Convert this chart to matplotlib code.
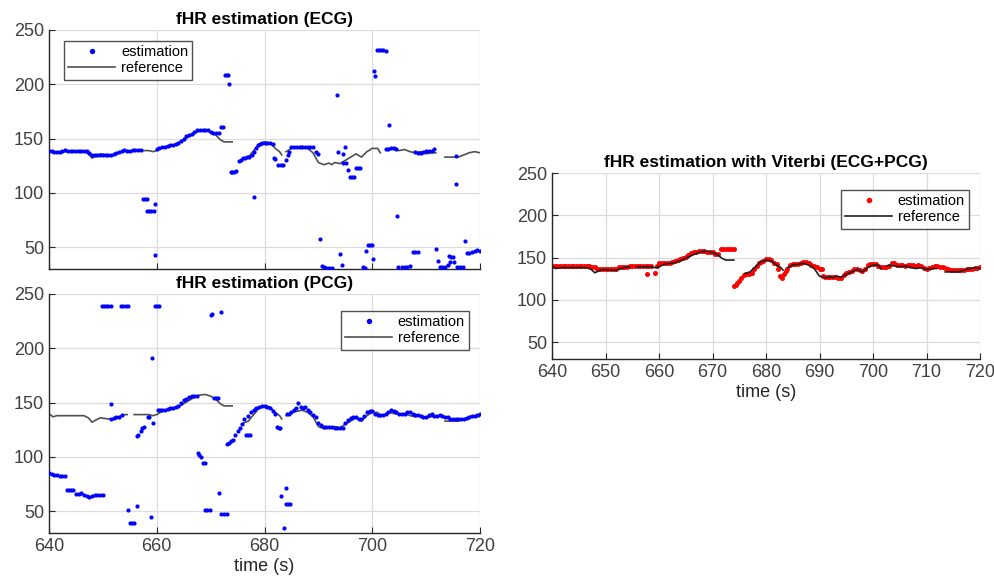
import numpy as np
import matplotlib
matplotlib.use("Agg")
import matplotlib.pyplot as plt

plt.rcParams['font.family'] = ['Liberation Sans', 'DejaVu Sans']

nan = np.nan
# ---------------- reference fHR (shared by all panels) ----------------
ref_t = [640, 640.7, 641.5, 646.5, 647.3, 648, 648.7, 649.5, 651, 652, 653, 654, 654.5, 655,
         655.8, 657, 658.5, 659.3, 660, 661, 662, 663, 664, 665, 666, 667, 668, 669, 670, 671,
         671.8, 672.5, 674, 675, 676, 677, 678, 679, 680, 681, 682, 682.8, 683.2, 683.6, 684,
         685, 686, 687, 688, 689, 690, 691, 692, 692.5, 693, 694, 695, 696, 697, 698, 699, 700,
         701, 701.5, 702, 702.6, 703, 704, 705, 706, 707, 708, 709, 710, 711, 711.8, 712.7,
         713.5, 714, 716, 717, 718, 719, 720]
ref_v = [140, 137, 138, 138, 136, 132, 134, 136, 135, 135, 137, 139, 139, nan,
         139, 139, 139, 138, 139, 142, 143, 144, 146, 149, 152, 155, 157, 157.5, 156, 153,
         149, 147, 147, nan, 131, 133, 139, 145, 147, 146, 141, 138, 135, nan, 138,
         141, 142, 143, 141, 137, 128, 126, 127.5, 126, 128, 127, 130, 133, 136, 133, 138, 141,
         141, 137, nan, 140, 141, 140, 139, 140, 138, 137, 138, 136, 137, 137, nan,
         133, 133, 133, 135, 137, 138, 137]

# ---------------- ECG estimation ----------------
ecg_t = [640, 640.5, 641, 641.5, 642, 642.5, 643, 643.5, 644, 644.5, 645, 645.5, 646, 646.5, 647,
         647.5, 648, 648.5, 649, 649.5, 650, 650.5, 651, 651.5, 652, 652.5, 653, 653.5, 654, 654.5,
         655, 655.5, 656, 656.5, 657,
         657.4, 657.8, 658.2, 658.2, 658.6, 659, 659.4, 659.6, 659.7,
         660, 660.5, 661, 661.5, 662, 662.5, 663, 663.5, 664, 664.5, 665, 665.5, 666, 666.5, 667,
         667.5, 668, 668.5, 669, 669.5, 670, 670.5, 671, 671.5,
         672, 672.3, 672.6, 673, 673.3, 673.5,
         673.7, 674, 674.4, 674.8,
         675.2, 675.6, 676, 676.4, 676.8, 677.2, 677.6, 678, 678.4, 678.8, 679.2, 679.6, 680, 680.5,
         681, 681.5, 678.1,
         681.7, 682, 682.5, 683, 683.5, 684, 684.3, 684.6, 685, 685.5, 686, 686.5, 687, 687.5, 688,
         688.5, 689, 689.5, 690,
         690.3, 690.6, 691, 691.5, 692, 692.5, 693.4, 693.7, 694, 694.3, 694.5, 694.6, 694.9, 695.2,
         695.5, 695.8, 696.2, 696.6, 697, 697.4, 697.8, 698.3, 698.6, 698.9, 699.2, 699.6, 700,
         700.1, 700.3, 700.6, 700.8, 701.2, 701.6, 702, 702.5, 703.2,
         702.6, 703, 703.5, 704, 704.4, 704.6,
         704.8, 705.5, 706, 706.5, 707, 707.6, 708, 708.4,
         708, 708.5, 709, 709.5, 710, 710.5, 711, 711.5,
         711.8, 712.2, 712.5, 713, 713.5, 714, 714.2, 714.6, 715, 714.5, 715.2, 715.5, 715.5,
         715.8, 716.3, 716.8, 717.3, 717.6, 718, 718.5, 719, 719.5, 720]
ecg_v = [139, 139, 138, 138, 138, 139, 139.5, 139, 139, 139, 139, 139, 139, 139, 139,
         137, 135, 135, 135, 135, 135, 135, 135, 135, 136, 137, 138, 139, 139.5, 139,
         139, 139.5, 139.5, 139.5, 139.5,
         94, 94, 94, 83, 83, 83, 83, 90, 43,
         140, 141, 142, 142, 143, 144, 144.5, 145, 146, 148, 150, 152, 153, 154, 156,
         157.5, 158, 158, 158, 158, 156, 155, 155, 155,
         160.5, 160.5, 209, 209, 209, 200,
         119, 119, 119, 120,
         129, 130, 132, 132, 133, 133, 135, 138, 141, 144, 145, 146, 146, 146,
         146, 145.5, 96,
         132, 131, 126, 126, 126, 130, 135, 138, 142.5, 142.5, 142.5, 142.5, 142.5, 142.5, 142.5,
         142.5, 142, 138, 136,
         58, 33, 32, 31, 31, 31, 190, 138, 44, 34, 128, 136, 142, 128,
         121, 115, 115, 115, 123, 123, 123, 32, 31, 47, 52, 52, 52,
         39, 212, 208, 232, 232, 232, 231.5, 231, 163,
         140, 140, 141, 141, 140, 79,
         32, 32, 32, 32, 32.5, 46, 46, 46,
         138, 137, 137, 138, 138.5, 139, 139, 140,
         48, 37, 32, 32, 32, 34, 42, 41, 41, 36, 36, 134, 108,
         32, 32, 32, 55.5, 45, 45, 46, 47, 47.5, 47]

# ---------------- PCG estimation ----------------
pcg_t = [640, 640.5, 641, 641.5, 642, 642.5, 643, 643.3, 643.7, 644, 644.5, 645, 645.5, 646,
         646.5, 647, 647.5, 648, 648.5, 649, 649.5, 650,
         649.8, 650.2, 650.6, 651, 651.5, 653.4, 653.8, 654.2, 654.6, 659.6, 660, 660.4,
         651.5, 651.6, 652, 652.5, 653, 653.5,
         654.7, 655, 655.4, 655.8, 656.3,
         656.3, 656.6, 657, 657.3, 657.6, 658.3, 658.6, 659, 659.1, 659.3,
         660.2, 660.6, 661, 661.5, 662, 662.5, 663, 663.5, 664, 664.5, 665, 665.5, 666, 666.5, 667,
         667.5,
         667.6, 667.9, 668.2, 668.5, 668.9, 669, 669.4, 669.8, 670, 670.3, 670.7, 671, 671.4,
         671.6, 672, 672, 672.5, 673,
         673, 673.4, 673.8, 674.2, 674.6, 675, 675.4, 675.8, 676.2, 676.6, 677, 677.4,
         677, 677.5, 678, 678.5, 679, 679.5, 680, 680.5, 681, 681.5, 682,
         682.3, 682.6, 682.9, 683.1, 683.6, 683.9, 684, 684.4, 684.8,
         684.2, 684.6, 685, 685.4, 685.8, 686.3, 686.8, 687.2, 687.6, 688, 688.5, 689, 689.5, 690,
         690.5, 691, 691.5, 692, 692.5, 693, 693.5, 694, 694.5, 695, 695.5, 696, 696.5, 697, 697.5,
         698, 698.5, 699, 699.5, 700, 700.5, 701, 701.5, 702, 702.5, 703, 703.5, 704, 704.5, 705,
         705.5, 706, 706.5, 707, 707.5, 708, 708.5, 709, 709.5, 710, 710.5, 711, 711.5, 712, 712.5,
         713, 713.5, 714, 714.5, 715, 715.5, 716, 716.5, 717, 717.5, 718, 718.5, 719, 719.5, 720]
pcg_v = [85, 84, 83, 83, 82.5, 82.5, 82.5, 70, 70, 70, 70, 65.5, 65.5, 67,
         65, 64, 63, 64, 65, 65, 65, 65,
         239, 239, 239, 239, 239, 239, 239, 239, 239, 239, 239, 239,
         148.5, 135, 136, 137, 137, 139,
         51, 39, 39, 39, 54.6,
         119, 120, 124, 127, 128, 137, 137, 45, 191, 131,
         143, 143, 143, 143, 144, 145, 145, 146, 147, 150, 152, 153, 155, 156, 156,
         156,
         104, 102, 100, 94, 94, 51, 51, 51, 231, 232, 154, 154, 154,
         66.5, 233.5, 47.5, 47.5, 47.5,
         112, 113, 115, 116, 120, 124, 127, 130, 135, 120, 120, 120,
         138, 141, 143, 145, 146, 146.5, 146.5, 146, 145, 142, 140,
         128, 127, 127, 64, 35, 71, 57, 57, 57,
         140, 140, 141, 143, 145, 149.5, 146, 145, 146, 143, 141, 139, 137, 131,
         129, 128, 128, 128, 128, 127, 127, 127, 127, 131, 134, 136, 137, 137, 135,
         135, 138, 141, 142, 142, 140, 139, 139, 139, 140, 141, 143, 142, 141, 140,
         140, 140, 141, 141, 140, 139, 139, 138, 137, 137, 139, 140, 138, 138, 139,
         138, 137, 137, 135, 135, 135, 135, 135, 135, 136, 137, 138, 138, 139, 140]

# ---------------- Viterbi (ECG+PCG) estimation ----------------
vit_t = [640, 640.5, 641, 641.5, 642, 642.5, 643, 643.5, 644, 644.5, 645, 645.5, 646, 646.5, 647,
         647.5, 648, 648.5, 649, 649.5, 650, 650.5, 651, 651.5, 652, 652.5, 653, 653.5, 654, 654.5,
         655, 655.5, 656, 656.5, 657, 657.5, 658, 658.5, 657.7, 659.3,
         659.6, 660, 660.5, 661, 661.5, 662, 662.5, 663, 663.5, 664, 664.5, 665, 665.5, 666, 666.5,
         667, 667.5, 668, 668.5, 669, 669.5, 670, 670.5, 671, 671.5, 672, 672.5, 673, 673.5, 674,
         674, 674.3, 674.6, 675, 675.4, 675.8, 676.3, 676.8, 677.3, 677.8, 678.3, 678.7, 679.1,
         679.5, 680, 680.5, 681, 681.5, 682, 682.3, 682.7, 683, 683.3, 683.7, 684, 684.5, 685,
         685.5, 686, 686.5, 687, 687.5, 688, 688.5, 689, 689.5, 690, 690.4, 690.7, 691, 691.5,
         692, 692.5, 693, 693.5, 694, 694.5, 695, 695.5, 696, 696.5, 697, 697.5, 698, 698.5, 699,
         699.5, 700, 700.5, 701, 701.5, 702, 702.5, 703, 703.5, 704, 704.5, 705, 705.5, 706, 706.5,
         707, 707.5, 708, 708.5, 709, 709.5, 710, 710.5, 711, 711.5, 712, 712.5, 713, 713.5, 714,
         714.5, 715, 715.5, 716, 716.5, 717, 717.5, 718, 718.5, 719, 719.5, 720]
vit_v = [140, 140, 140, 140, 140, 140, 140, 140, 140, 140, 140, 140, 140, 140, 140,
         139, 139, 136, 136, 136, 136, 136, 136, 136, 137, 139, 139, 139, 139, 140,
         140, 140, 140, 140, 140, 140, 140, 140, 130, 132,
         140, 143, 143, 143, 143, 144, 145, 146, 147, 148.5, 150, 151, 153, 155, 156,
         157, 157.5, 158, 158, 157, 157, 156, 154, 154, 160, 160.5, 160.5, 160.5, 160.5, 160.5,
         116, 117, 120, 122, 126, 129, 131, 131, 132, 136, 140, 143, 145,
         146, 148, 148, 147, 144, 142, 137, 128, 126, 130, 134, 137, 141, 142,
         142, 142.5, 143, 145, 145, 144, 141, 140, 139, 137, 136, 128, 127, 127,
         127, 127, 127, 126, 126, 129, 132, 133, 134, 137, 137, 135, 134, 137, 141,
         142, 142, 142, 140, 139, 139, 139, 140, 143, 143, 141, 141, 141, 140, 141,
         141, 141, 140, 141, 140, 138, 137, 138, 139, 140, 140, 139, 139, 138, 136,
         135, 135, 135, 135, 135, 135.5, 136, 137, 137, 138, 138, 139]

x_ticks_left = [640, 660, 680, 700, 720]
x_ticks_right = [640, 650, 660, 670, 680, 690, 700, 710, 720]
y_ticks = [50, 100, 150, 200, 250]

W, H = 994, 584
fig = plt.figure(figsize=(W / 100, H / 100), dpi=100)

def px_axes(l, t, r, b):
    return fig.add_axes([l / W, 1 - b / H, (r - l) / W, (b - t) / H])

ax1 = px_axes(49, 30, 480, 269)
ax2 = px_axes(49, 294, 480, 533)
ax3 = px_axes(552, 173, 980, 359)

tick_col = '#404040'

def style(ax, xticks, show_xlabels=True):
    ax.set_xlim(640, 720)
    ax.set_ylim(30, 250)
    ax.set_xticks(xticks)
    ax.set_yticks(y_ticks)
    ax.grid(True, color='#dcdcdc', linewidth=0.9)
    ax.set_axisbelow(True)
    for s in ['top', 'right']:
        ax.spines[s].set_visible(False)
    for s in ['left', 'bottom']:
        ax.spines[s].set_color('#262626')
        ax.spines[s].set_linewidth(1.0)
    ax.tick_params(axis='both', colors='#262626', labelcolor=tick_col, labelsize=13,
                   direction='in', length=4, width=0.8)
    if not show_xlabels:
        ax.tick_params(axis='x', labelbottom=False)

# ECG
style(ax1, x_ticks_left, show_xlabels=False)
ax1.plot(ecg_t, ecg_v, linestyle='none', marker='o', markersize=3.0, markeredgewidth=0,
         color='#0000ff', label='estimation', clip_on=True, zorder=3)
ax1.plot(ref_t, ref_v, color='#505050', linewidth=1.2, label='reference', zorder=2)
ax1.set_title('fHR estimation (ECG)', fontsize=12.5, fontweight='bold', pad=4)
leg1 = ax1.legend(loc='upper left', bbox_to_anchor=(0.035, 0.955), fontsize=10.5, frameon=True,
                  fancybox=False, edgecolor='#262626', handlelength=3.2, markerscale=1.3,
                  borderpad=0.3, labelspacing=0.15, handletextpad=0.4, borderaxespad=0)
leg1.get_frame().set_linewidth(1.0)

# PCG
style(ax2, x_ticks_left)
ax2.plot(pcg_t, pcg_v, linestyle='none', marker='o', markersize=3.0, markeredgewidth=0,
         color='#0000ff', label='estimation', zorder=3)
ax2.plot(ref_t, ref_v, color='#505050', linewidth=1.2, label='reference', zorder=2)
ax2.set_title('fHR estimation (PCG)', fontsize=12.5, fontweight='bold', pad=4)
ax2.set_xlabel('time (s)', fontsize=13, color='#262626', labelpad=2)
leg2 = ax2.legend(loc='upper right', bbox_to_anchor=(0.975, 0.93), fontsize=10.5, frameon=True,
                  fancybox=False, edgecolor='#262626', handlelength=3.2, markerscale=1.3,
                  borderpad=0.3, labelspacing=0.15, handletextpad=0.4, borderaxespad=0)
leg2.get_frame().set_linewidth(1.0)

# Viterbi
style(ax3, x_ticks_right)
ax3.plot(vit_t, vit_v, linestyle='none', marker='o', markersize=3.6, markeredgewidth=0,
         color='#ff0000', label='estimation', zorder=2)
ax3.plot(ref_t, ref_v, color='#202020', linewidth=1.2, label='reference', zorder=3)
ax3.set_title('fHR estimation with Viterbi (ECG+PCG)', fontsize=12.5, fontweight='bold', pad=4)
ax3.set_xlabel('time (s)', fontsize=13, color='#262626', labelpad=2)
leg3 = ax3.legend(loc='upper right', bbox_to_anchor=(0.975, 0.91), fontsize=10.5, frameon=True,
                  fancybox=False, edgecolor='#262626', handlelength=3.2, markerscale=1.1,
                  borderpad=0.3, labelspacing=0.15, handletextpad=0.4, borderaxespad=0)
leg3.get_frame().set_linewidth(1.0)

fig.savefig('out.png', dpi=100, facecolor='white')
